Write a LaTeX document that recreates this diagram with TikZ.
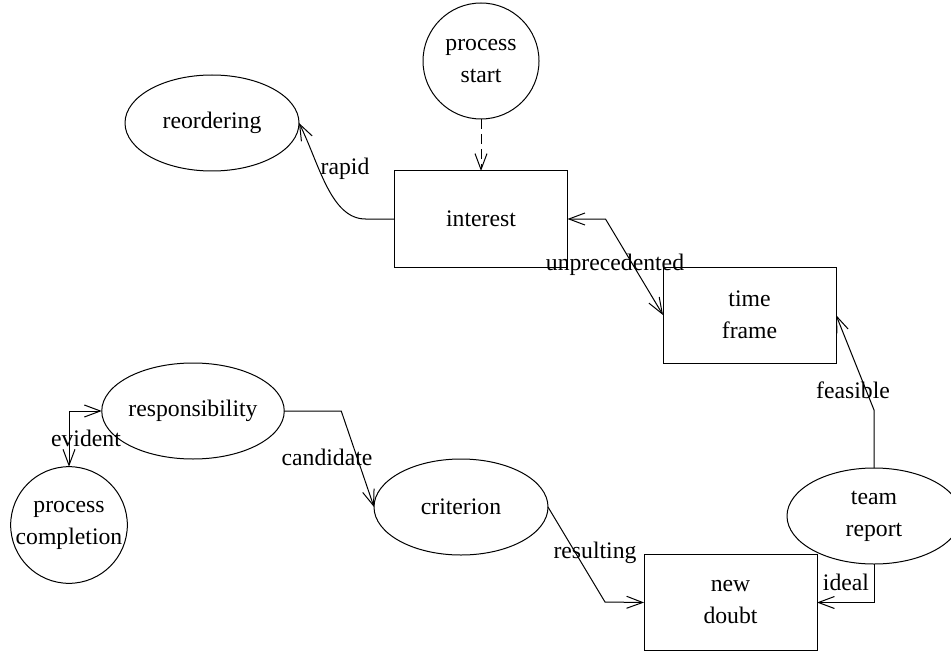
\documentclass[tikz,border=0pt]{standalone}
\usepackage{fontspec}
\setmainfont{Liberation Serif}
\usetikzlibrary{arrows.meta,shapes.geometric}

\begin{document}
\begin{tikzpicture}[x=.5pt,y=-.5pt,line width=.5pt,
  >={Straight Barb[length=8pt,width=6pt]},
  font=\fontsize{11.85pt}{16pt}\selectfont,
  every node/.style={inner sep=0pt,outer sep=0pt},
  box/.style={draw,rectangle,minimum width=86.5pt,minimum height=48pt,align=center},
  oval/.style={draw,ellipse,minimum width=87pt,minimum height=48pt,align=center},
  disc/.style={draw,circle,minimum size=58pt,align=center},
  flow/.style={->},
  lbl/.style={align=center}]
\useasboundingbox (0,0) rectangle (951,652);
% states
\node[disc] (start) at (481,61) {process\\start};
\node[oval] (reorder) at (212,123) {reordering};
\node[box] (interest) at (481,219) {interest};
\node[box] (frame) at (749.5,315) {time\\frame};
\node[oval] (resp) at (193,411) {responsibility};
\node[disc,minimum size=57pt] (finish) at (69,525) {process\\completion};
\node[oval] (crit) at (461,507) {criterion};
\node[oval] (report) at (874,516) {team\\report};
\node[box] (doubt) at (730.5,602.5) {new\\doubt};
% transitions
\draw[flow,dash pattern=on 5pt off 2.5pt] (start) -- (interest);
\draw[flow] (interest.west) -- ++(-29,0)
  .. controls +(-35,0) and +(20,40) .. (reorder.east)
  node[lbl] at (345,169) {rapid};
\draw[flow,<->] (interest.east) -- ++(38,0) -- (frame.west)
  node[lbl] at (615,265) {unprecedented};
\draw[flow] (report.north) -- ++(0,-58) -- (frame.east)
  node[lbl] at (853,390) {feasible};
\draw[flow] (report.south) |- (doubt.east)
  node[lbl] at (846,582) {ideal};
\draw[flow] (crit.east) -- ++(57,95) -- (doubt.west)
  node[lbl] at (595,553) {resulting};
\draw[flow] (resp.east) -- ++(57,0) -- (crit.west)
  node[lbl] at (327,457) {candidate};
\draw[flow,<->] (resp.west) -| (finish.north)
  node[lbl] at (86,438) {evident};
\end{tikzpicture}
\end{document}
